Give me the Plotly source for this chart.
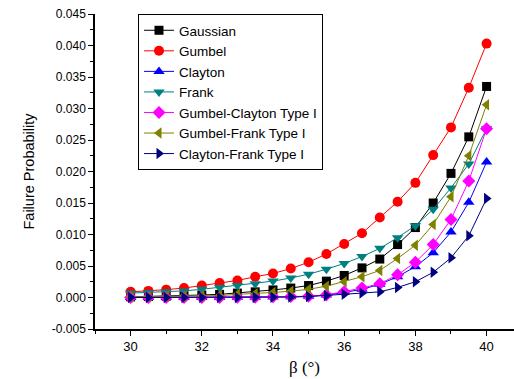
import plotly.graph_objects as go

beta = [30, 30.5, 31, 31.5, 32, 32.5, 33, 33.5, 34, 34.5, 35, 35.5, 36, 36.5, 37, 37.5, 38, 38.5, 39, 39.5, 40]

gaussian = [0.0001, 0.00015, 0.0002, 0.0003, 0.0004, 0.0005, 0.0007, 0.0009, 0.0012, 0.0015, 0.0019, 0.0026, 0.0035, 0.0047, 0.0061, 0.0084, 0.0111, 0.0150, 0.0197, 0.0255, 0.0335]
gumbel = [0.0009, 0.00105, 0.00125, 0.0015, 0.0019, 0.0023, 0.0027, 0.0033, 0.0038, 0.0046, 0.0056, 0.0069, 0.0085, 0.0102, 0.0127, 0.0152, 0.0182, 0.0226, 0.0270, 0.0333, 0.0403]
clayton = [0.0, 0.0, 0.0, 0.0, 0.0, 0.0, 0.00002, 0.00004, 0.00007, 0.0001, 0.0002, 0.0004, 0.0008, 0.0013, 0.0021, 0.0033, 0.0049, 0.0071, 0.0104, 0.0151, 0.0215]
frank = [0.0007, 0.0008, 0.0009, 0.00105, 0.0013, 0.0016, 0.0019, 0.0022, 0.0026, 0.0031, 0.0037, 0.0045, 0.0054, 0.0065, 0.0078, 0.0095, 0.0114, 0.0140, 0.0174, 0.0212, 0.0268]
gumbel_clayton = [0.0, 0.0, 0.0, 0.0, 0.0, 0.0, 0.00002, 0.00005, 0.0001, 0.00015, 0.0002, 0.0004, 0.0009, 0.0015, 0.0022, 0.0036, 0.0056, 0.0084, 0.0124, 0.0185, 0.0268]
gumbel_frank = [0.0001, 0.00013, 0.00017, 0.0002, 0.00025, 0.0003, 0.0005, 0.0006, 0.0008, 0.0010, 0.0013, 0.0018, 0.0025, 0.0033, 0.0043, 0.0062, 0.0083, 0.0116, 0.0160, 0.0225, 0.0306]
clayton_frank = [0.0, 0.0, 0.0, 0.0, 0.0, 0.0, 0.0, 0.00002, 0.00005, 0.00008, 0.00015, 0.0003, 0.0005, 0.0007, 0.0009, 0.0016, 0.0025, 0.0040, 0.0063, 0.0098, 0.0157]

names = ["Gaussian", "Gumbel", "Clayton", "Frank", "Gumbel-Clayton Type I", "Gumbel-Frank Type I", "Clayton-Frank Type I"]
series = [gaussian, gumbel, clayton, frank, gumbel_clayton, gumbel_frank, clayton_frank]
colors = ["#000000", "#FF0000", "#0000FF", "#008080", "#FF00FF", "#808000", "#000080"]
symbols = ["square", "circle", "triangle-up", "triangle-down", "diamond", "triangle-left", "triangle-right"]
msizes = [9, 10, 10, 10, 10, 10, 10]

ytickvals = [-0.005, 0.0, 0.005, 0.010, 0.015, 0.020, 0.025, 0.030, 0.035, 0.040, 0.045]
yticktext = ["-0.005", "0.000", "0.005", "0.010", "0.015", "0.020", "0.025", "0.030", "0.035", "0.040", "0.045"]

fig = go.Figure()
for n, s, c, m, ms in zip(names, series, colors, symbols, msizes):
    fig.add_trace(go.Scatter(
        x=beta, y=s, name=n, mode="lines+markers",
        line=dict(color=c, width=1),
        marker=dict(symbol=m, size=ms, color=c, line=dict(width=0)),
    ))

font = "Arial, Liberation Sans, sans-serif"
fig.update_layout(
    width=514, height=379,
    margin=dict(l=95, r=0, t=14, b=50),
    paper_bgcolor="white", plot_bgcolor="white",
    font=dict(family=font, size=12, color="black"),
    showlegend=True,
    legend=dict(
        x=0.1026, y=1, xanchor="left", yanchor="top",
        bgcolor="white", bordercolor="black", borderwidth=1,
        font=dict(family=font, size=13.5, color="black"),
        tracegroupgap=0, itemwidth=30,
    ),
    xaxis=dict(
        range=[29, 40.77], tickvals=[30, 32, 34, 36, 38, 40],
        ticks="outside", ticklen=5, tickwidth=1, tickcolor="black",
        minor=dict(dtick=1, tick0=29, ticks="outside", ticklen=3, tickcolor="black"),
        showline=True, linecolor="black", linewidth=1.5,
        showgrid=False, zeroline=False,
        tickfont=dict(size=13),
        title=dict(text="β (°)", font=dict(family="Liberation Serif, Times New Roman, serif", size=17), standoff=8),
    ),
    yaxis=dict(
        range=[-0.005, 0.045], tickvals=ytickvals, ticktext=yticktext,
        ticks="outside", ticklen=5, tickwidth=1, tickcolor="black",
        minor=dict(dtick=0.0025, tick0=-0.005, ticks="outside", ticklen=3, tickcolor="black"),
        showline=True, linecolor="black", linewidth=1.5,
        showgrid=False, zeroline=False,
        tickfont=dict(size=12),
        title=dict(text="Failure Probability", font=dict(size=14.5), standoff=14),
    ),
)

fig.write_html("out.html")
